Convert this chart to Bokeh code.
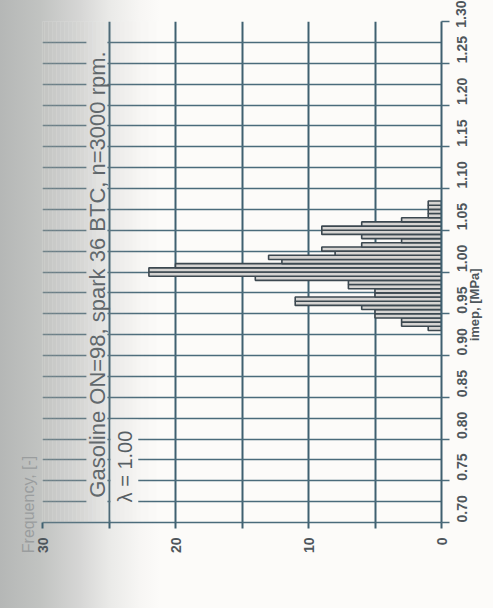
import math

from bokeh.core.properties import value
from bokeh.embed import file_html
from bokeh.models import (BoxAnnotation, FixedTicker, LinearAxis,
                          PrintfTickFormatter, Range1d)
from bokeh.plotting import figure
from bokeh.resources import INLINE

# Histogram of indicated mean effective pressure, 0.005 MPa classes
imep_centers = [0.9325, 0.9375, 0.9425, 0.9475, 0.9525, 0.9575, 0.9625, 0.9675,
                0.9725, 0.9775, 0.9825, 0.9875, 0.9925, 0.9975, 1.0025, 1.0075,
                1.0125, 1.0175, 1.0225, 1.0275, 1.0325, 1.0375, 1.0425, 1.0475,
                1.0525, 1.0575, 1.0625, 1.0675, 1.0725, 1.0775, 1.0825]
frequency = [1, 3, 3, 5, 5, 6, 11, 11, 5, 5, 7, 7, 14, 22, 22, 20,
             12, 13, 8, 9, 6, 3, 6, 9, 9, 6, 3, 1, 1, 1, 1]
bin_width = 0.005

imep_ticks = [0.70, 0.75, 0.80, 0.85, 0.90, 0.95, 1.00, 1.05, 1.10, 1.15, 1.20, 1.25, 1.30]
imep_grid = [0.70, 0.725, 0.75, 0.775, 0.80, 0.825, 0.85, 0.875, 0.90, 0.925, 0.95,
             0.975, 1.00, 1.025, 1.05, 1.075, 1.10, 1.125, 1.15, 1.175, 1.20, 1.225,
             1.25, 1.275, 1.30]
freq_ticks = [0, 5, 10, 15, 20, 25, 30]
freq_grid = [0, 5, 10, 15, 20, 25]

title_text = "Gasoline ON=98, spark 36 BTC, n=3000 rpm."
lambda_text = "\u03bb = 1.00"
imep_title_text = "imep, [MPa]"
freq_title_text = "Frequency, [-]"

PAPER = (252, 251, 249)
SHADE = (151, 154, 153)
PAPER_HEX = "#fcfbf9"
SHADE_HEX = "#979a99"
INK = "#4a6b7b"
INK_DARK = "#3f6070"
TEXT = "#4f575c"
FONT = "Liberation Sans"

# darkening along the left edge of the sheet (canvas px -> opacity)
shade_x = [0, 40, 80, 110, 140, 160]
shade_a = [0.70, 0.58, 0.38, 0.18, 0.05, 0.0]


def mix(a):
    return "rgb(%d,%d,%d)" % tuple(round((1 - a) * c + a * s) for c, s in zip(PAPER, SHADE))


css_stops = ", ".join("%s %dpx" % (mix(a), x) for x, a in zip(shade_x, shade_a))

p = figure(width=493, height=608, output_backend="svg", toolbar_location=None,
           x_range=Range1d(30, 0), y_range=Range1d(0.70, 1.30),
           x_axis_location="below", y_axis_location="right",
           min_border_left=42, min_border_right=52, min_border_top=21,
           min_border_bottom=86, background_fill_color=PAPER_HEX,
           border_fill_color=None, outline_line_color=None)
p.styles = {"background": "linear-gradient(to right, %s)" % css_stops}

# grid
p.xgrid.ticker = FixedTicker(ticks=freq_grid)
p.ygrid.ticker = FixedTicker(ticks=imep_grid)
p.xgrid.grid_line_color = INK_DARK
p.xgrid.grid_line_width = 2
p.ygrid.grid_line_color = INK
p.ygrid.grid_line_width = 1.7

# imep axis on the right, labels reading upward
ya = p.yaxis[0]
ya.ticker = FixedTicker(ticks=imep_ticks)
ya.formatter = PrintfTickFormatter(format="%.2f")
ya.major_label_orientation = math.pi / 2
ya.major_label_standoff = 12
ya.major_label_text_font = FONT
ya.major_label_text_font_size = "14px"
ya.major_label_text_font_style = "bold"
ya.major_label_text_color = TEXT
ya.major_tick_out = 8
ya.major_tick_in = 0
ya.minor_tick_line_color = None
ya.major_tick_line_color = INK
ya.major_tick_line_width = 1.6
ya.axis_line_color = INK_DARK
ya.axis_line_width = 2


def caption_axis(at, text, size, style, color, standoff):
    """An axis without line or ticks that only carries one caption."""
    return LinearAxis(ticker=FixedTicker(ticks=[at]),
                      major_label_overrides={at: text},
                      major_label_orientation=math.pi / 2,
                      major_label_standoff=standoff,
                      major_label_text_font=FONT,
                      major_label_text_font_size=size,
                      major_label_text_font_style=style,
                      major_label_text_color=color,
                      axis_line_color=None, major_tick_line_color=None,
                      minor_tick_line_color=None,
                      major_tick_in=0, major_tick_out=0)


# axis title a little below the middle of the imep scale (text starts at the tick)
p.add_layout(caption_axis(0.917, imep_title_text, "13px", "bold", TEXT, 0), "right")
# frequency title low on the left margin (text ends at the tick)
p.add_layout(caption_axis(0.780, freq_title_text, "16px", "normal", "#9a9d9e", 14), "left")

# frequency axis along the bottom
xa = p.xaxis[0]
xa.ticker = FixedTicker(ticks=freq_ticks)
xa.major_label_overrides = {5: "", 15: "", 25: ""}
xa.major_label_orientation = math.pi / 2
xa.major_label_standoff = 9
xa.major_label_text_font = FONT
xa.major_label_text_font_size = "14px"
xa.major_label_text_font_style = "bold"
xa.major_label_text_color = TEXT
xa.major_tick_out = 6
xa.major_tick_in = 0
xa.minor_tick_line_color = None
xa.major_tick_line_color = INK_DARK
xa.major_tick_line_width = 2
xa.axis_line_color = INK
xa.axis_line_width = 1.7

# blank panels behind the captions
p.quad(left=[25.12], right=[26.7], bottom=[0.699], top=[1.291],
       fill_color=PAPER_HEX, line_color=None)
p.quad(left=[22.8], right=[24.88], bottom=[0.703], top=[0.823],
       fill_color=PAPER_HEX, line_color=None)

# histogram bars grow leftwards from zero frequency
p.hbar(y=imep_centers, height=bin_width, left=0, right=frequency,
       fill_color="#d6d4d2", line_color="#3c4850", line_width=1.6)

p.text(x=[25.85], y=[0.997], text=[title_text], angle=math.pi / 2,
       text_align="center", text_baseline="middle",
       text_font=value(FONT), text_font_size="22px", text_color=TEXT)
p.text(x=[23.8], y=[0.767], text=[lambda_text], angle=math.pi / 2,
       text_align="center", text_baseline="middle",
       text_font=value(FONT), text_font_size="20px", text_color=TEXT)

# same darkening laid over the plotting area
step = 4
for x0 in range(0, 160, step):
    xm = x0 + step / 2
    a = 0.0
    for i in range(len(shade_x) - 1):
        if shade_x[i] <= xm <= shade_x[i + 1]:
            t = (xm - shade_x[i]) / (shade_x[i + 1] - shade_x[i])
            a = shade_a[i] + t * (shade_a[i + 1] - shade_a[i])
            break
    if a <= 0:
        continue
    p.add_layout(BoxAnnotation(left=x0, right=x0 + step, top=0, bottom=608,
                               left_units="canvas", right_units="canvas",
                               top_units="canvas", bottom_units="canvas",
                               fill_color=SHADE_HEX, fill_alpha=a,
                               line_color=None, level="overlay"))

open("out.html", "w").write(file_html(p, INLINE))
